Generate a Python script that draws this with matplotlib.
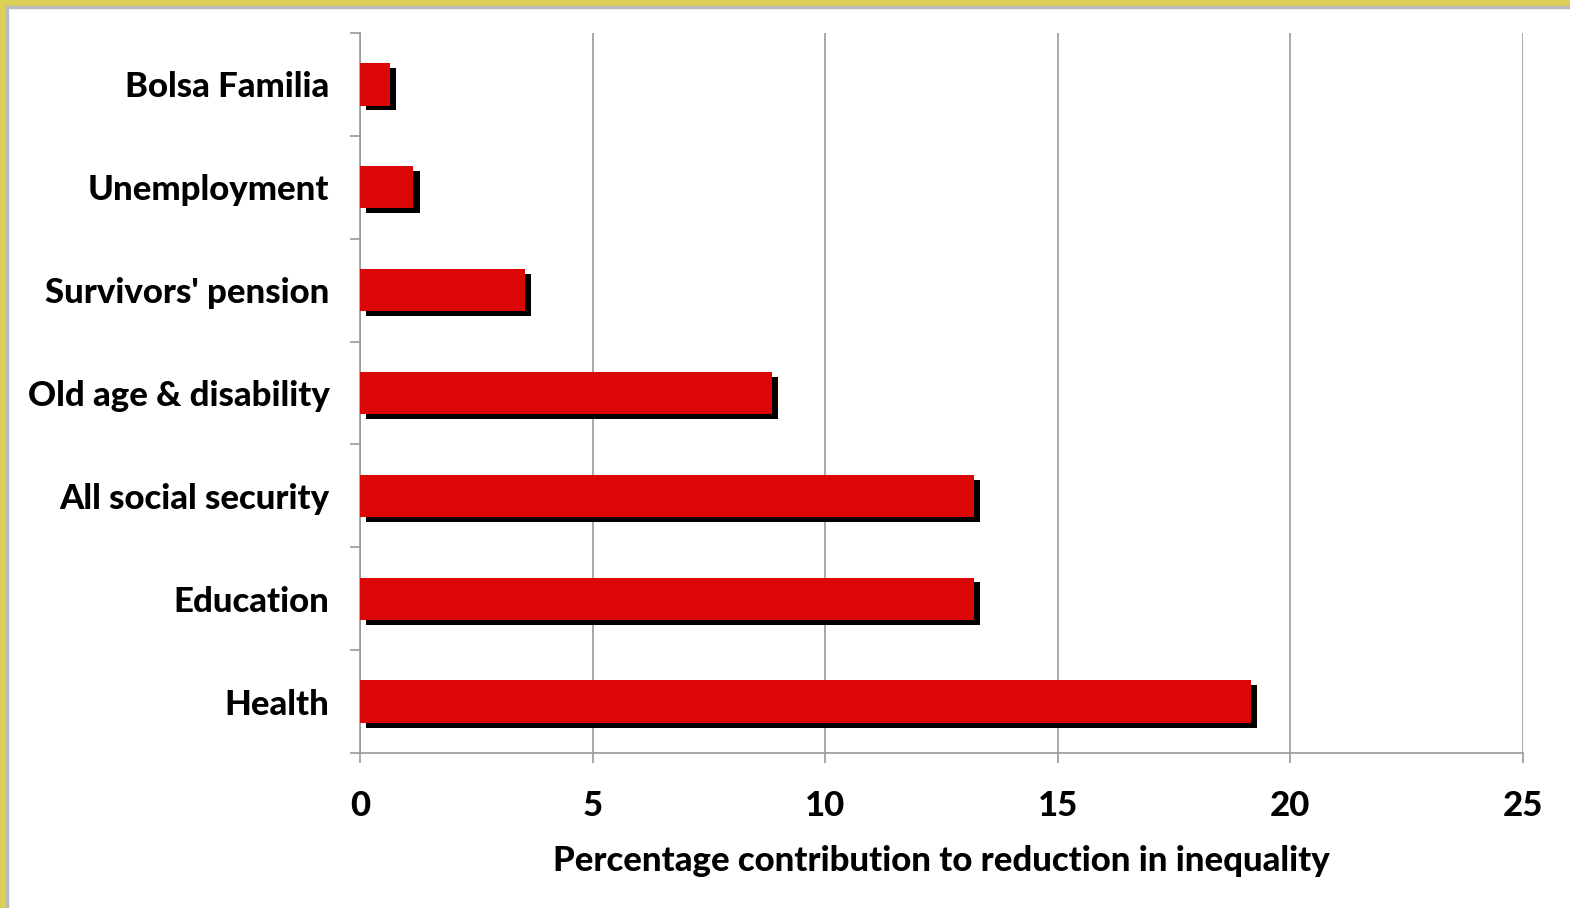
import matplotlib
matplotlib.use("Agg")
import matplotlib.pyplot as plt
from matplotlib.patches import Rectangle
import matplotlib.patheffects as pe
import numpy as np

categories = ["Bolsa Familia", "Unemployment", "Survivors' pension",
              "Old age & disability", "All social security", "Education", "Health"]
values = [0.65, 1.15, 3.55, 8.85, 13.2, 13.2, 19.15]
xticks = [0, 5, 10, 15, 20, 25]
xlabel = "Percentage contribution to reduction in inequality"

plt.rcParams['font.family'] = ['Lato', 'DejaVu Sans']

W, H = 1570, 908
fig = plt.figure(figsize=(W / 100, H / 100), dpi=100)
ax = fig.add_axes([360 / W, 1 - 753 / H, (1523 - 360) / W, (753 - 33) / H])

y = np.arange(len(categories))[::-1]
bars = ax.barh(y, values, height=0.41, color="#DD0606", zorder=3)
for b in bars:
    b.set_path_effects([pe.withSimplePatchShadow(offset=(4.5, -3.5), shadow_rgbFace="black",
                                                 alpha=1.0)])

FS = 25
ax.set_xlim(0, 25)
ax.set_ylim(-0.5, len(categories) - 0.5)
ax.set_xticks(xticks)
ax.set_xticklabels([str(t) for t in xticks], fontsize=FS, fontweight="black")
ax.set_yticks(y)
ax.set_yticklabels(categories, fontsize=FS, fontweight="black")
ax.tick_params(axis="y", length=0, pad=22)
ax.set_yticks(np.arange(-0.5, len(categories), 1.0), minor=True)
ax.tick_params(axis="y", which="minor", length=7, color="#999999", width=1.2)
ax.tick_params(axis="x", length=7, color="#999999", width=1.2, pad=20)

ax.grid(axis="x", color="#999999", linewidth=1.2, zorder=0)
ax.set_axisbelow(True)
for s in ["top", "right"]:
    ax.spines[s].set_visible(False)
for s in ["left", "bottom"]:
    ax.spines[s].set_color("#999999")
    ax.spines[s].set_linewidth(1.2)

ax.set_xlabel(xlabel, fontsize=FS, fontweight="black", labelpad=16)

# yellow frame on top and left
fig.patches.append(Rectangle((0, 1 - 6 / H), 1, 6 / H, transform=fig.transFigure,
                             color="#DDD058", zorder=10))
fig.patches.append(Rectangle((0, 0), 6 / W, 1, transform=fig.transFigure,
                             color="#DDD058", zorder=10))
fig.patches.append(Rectangle((6 / W, 1 - 8 / H), 1, 2 / H, transform=fig.transFigure,
                             color="#BBBBBB", zorder=10))
fig.patches.append(Rectangle((6 / W, 0), 2 / W, 1 - 6 / H, transform=fig.transFigure,
                             color="#BBBBBB", zorder=10))

fig.savefig("out.png", dpi=100)
